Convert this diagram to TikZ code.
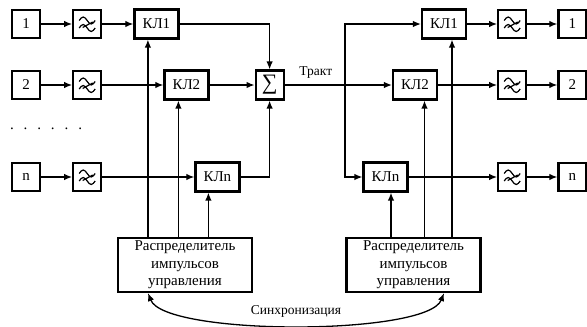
\documentclass[tikz,border=0pt]{standalone}
\usepackage{fontspec}
\setmainfont{Liberation Serif}
\usetikzlibrary{arrows.meta, positioning}
\tikzstyle{sq} = [rectangle, minimum width=28pt, minimum height=28pt, inner sep=0pt, text centered, draw=black, line width=2.2pt]
\tikzstyle{kl} = [rectangle, minimum width=44pt, minimum height=29pt, inner sep=0pt, text centered, draw=black, line width=2.2pt]
\tikzstyle{dist} = [rectangle, minimum width=134pt, minimum height=54pt, inner sep=0pt, align=center, draw=black, line width=2.2pt, font=\fontsize{15}{17.5}\selectfont]
\tikzstyle{filter} = [sq, path picture={
  \draw[line width=1.2pt, shift={(path picture bounding box.center)}]
    (-8,-3.5) sin (-4,-7) cos (0,-3.5) sin (4,0) cos (8,-3.5)
    (-8,4) sin (-4,0.5) cos (0,4) sin (4,7.5) cos (8,4)
    (5.5,-2) -- (-4.5,3.5);}]
\tikzstyle{arrow} = [line width=1.3pt, -{Latex[length=8pt,width=6.5pt]}]
\tikzstyle{line} = [line width=1.3pt]

\begin{document}
\begin{tikzpicture}[x=1pt, y=-1pt, node distance=31pt, font=\fontsize{15}{17}\selectfont]
  \useasboundingbox (0,0) rectangle (587,327);
  % transmitting side
  \node (src1) [sq] at (26,24) {1};
  \node (flt1) [filter, right=of src1] {};
  \node (kl1) [kl, right=of flt1] {КЛ1};
  \node (src2) [sq] at (26,85) {2};
  \node (flt2) [filter, right=of src2] {};
  \node (kl2) [kl, right=61pt of flt2] {КЛ2};
  \node (sum) [sq, minimum height=29pt, right=45pt of kl2, font=\fontsize{22}{22}\selectfont] {∑};
  \node (dots) at (46,129) {\makebox[72pt]{.\hfill.\hfill.\hfill.\hfill.\hfill.}};
  \node (srcn) [sq] at (26,177) {n};
  \node (fltn) [filter, right=of srcn] {};
  \node (kln) [kl, right=92pt of fltn] {КЛn};
  \node (distl) [dist] at (185,265) {Распределитель\\импульсов\\управления};
  \draw [arrow] (src1) -- (flt1);
  \draw [arrow] (flt1) -- (kl1);
  \draw [arrow] (src2) -- (flt2);
  \draw [arrow] (flt2) -- (kl2);
  \draw [arrow] (srcn) -- (fltn);
  \draw [arrow] (fltn) -- (kln);
  \draw [arrow] (kl1) -| (sum);
  \draw [arrow] (kl2) -- (sum);
  \draw [arrow] (kln) -| (sum);
  \draw [arrow] ([xshift=-8.5pt]kl1.south |- distl.north) -- ([xshift=-8.5pt]kl1.south);
  \draw [arrow] ([xshift=-8pt]kl2.south |- distl.north) -- ([xshift=-8pt]kl2.south);
  \draw [arrow] ([xshift=-9pt]kln.south |- distl.north) -- ([xshift=-9pt]kln.south);
  % receiving side
  \node (kl1r) [kl] at (444,24) {КЛ1};
  \node (flt1r) [filter, right=30pt of kl1r] {};
  \node (dst1) [sq, right=30pt of flt1r] {1};
  \node (kl2r) [kl] at (415,85) {КЛ2};
  \node (flt2r) [filter] at (flt1r |- kl2r) {};
  \node (dst2) [sq, right=30pt of flt2r] {2};
  \node (klnr) [kl] at (385.5,177) {КЛn};
  \node (fltnr) [filter] at (flt1r |- klnr) {};
  \node (dstn) [sq, right=30pt of fltnr] {n};
  \node (distr) [dist] at (413.5,265) {Распределитель\\импульсов\\управления};
  \coordinate (branch) at (345,85);
  \draw [arrow] (sum) -- node[pos=0.29, above=3pt, font=\fontsize{13.5}{15}\selectfont] {Тракт} (kl2r);
  \draw [arrow] (branch) |- (kl1r);
  \draw [arrow] (branch) |- (klnr);
  \draw [arrow] (kl1r) -- (flt1r);
  \draw [arrow] (flt1r) -- (dst1);
  \draw [arrow] (kl2r) -- (flt2r);
  \draw [arrow] (flt2r) -- (dst2);
  \draw [arrow] (klnr) -- (fltnr);
  \draw [arrow] (fltnr) -- (dstn);
  \draw [arrow] ([xshift=8pt]kl1r.south |- distr.north) -- ([xshift=8pt]kl1r.south);
  \draw [arrow] ([xshift=9.5pt]kl2r.south |- distr.north) -- ([xshift=9.5pt]kl2r.south);
  \draw [arrow] ([xshift=5.5pt]klnr.south |- distr.north) -- ([xshift=5.5pt]klnr.south);
  % synchronisation
  \draw [line width=1.3pt, {Latex[length=8pt,width=6.5pt]}-{Latex[length=8pt,width=6.5pt]}]
    ([xshift=-37pt]distl.south) .. controls (165,336) and (427,336) .. ([xshift=30.5pt]distr.south)
    node[pos=0.5, above=4pt, font=\fontsize{13.5}{15}\selectfont] {Синхронизация};
\end{tikzpicture}
\end{document}
